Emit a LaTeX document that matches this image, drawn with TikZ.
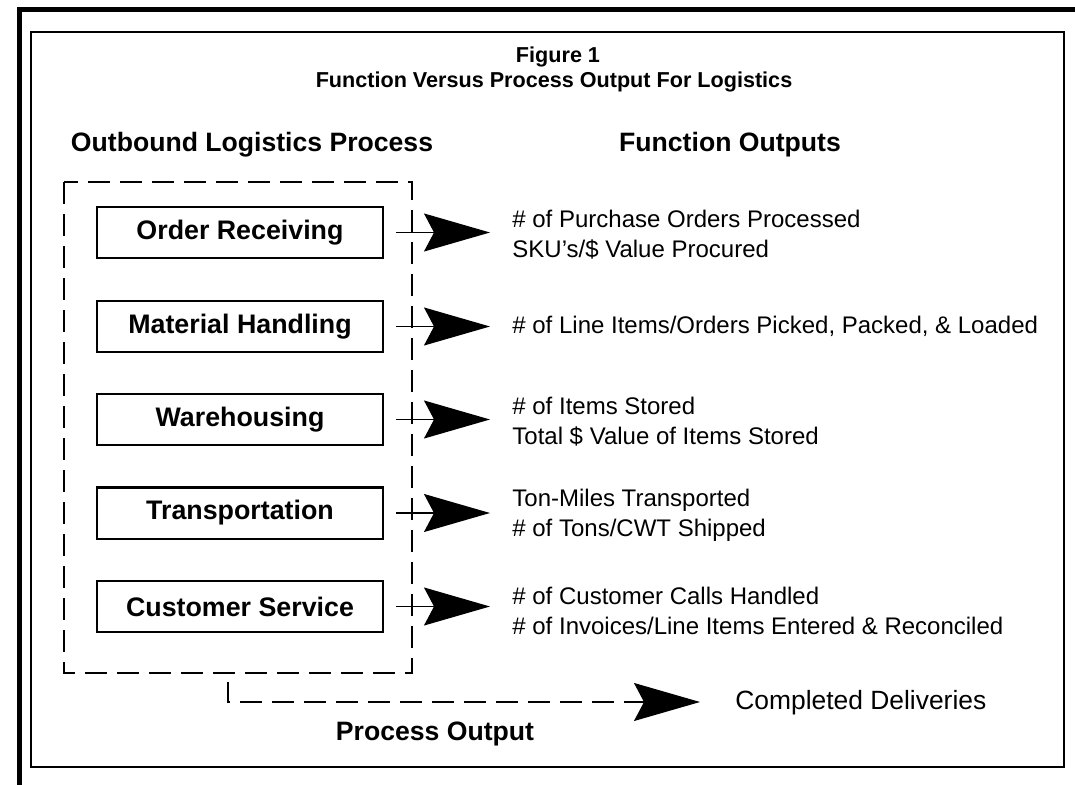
\documentclass[tikz,border=0pt]{standalone}
\usepackage{fontspec}
\setmainfont{Liberation Sans}
\usetikzlibrary{calc,arrows.meta}

\begin{document}
\begin{tikzpicture}[
        x=0.5pt,y=-0.5pt
        ,func/.style={draw,line width=1pt,minimum width=143pt,minimum height=25.5pt,inner sep=0pt,font=\bfseries\fontsize{13.4}{15}\selectfont}
        ,outp/.style={anchor=west,align=left,inner sep=0pt,font=\fontsize{12}{15}\selectfont}
        ,head/.style={inner sep=0pt,font=\bfseries\fontsize{13.3}{15}\selectfont}
        ,arr/.style={line width=0.7pt,-{Stealth[length=33pt,width=19pt,inset=5pt]}}
        ,dashbox/.style={line width=0.6pt,dash pattern=on 11pt off 5pt}
    ]
    \useasboundingbox (0,0) rectangle (1075,785);
    % Рамки
    \draw[line width=2.5pt] (17,10) -- (1075,10);
    \draw[line width=2.5pt] (19,10) -- (19,785);
    \draw[line width=0.75pt] (31,32) rectangle (1064,767);
    % Заголовок
    \node[inner sep=0pt,font=\bfseries\fontsize{10.8}{12}\selectfont] (fig) at (558,57) {Figure 1};
    \node[inner sep=0pt,font=\bfseries\fontsize{10.8}{12}\selectfont] (title) at (554,82) {Function Versus Process Output For Logistics};
    \node[head] (hproc) at (252,145) {Outbound Logistics Process};
    \node[head] (hfunc) at (730,145) {Function Outputs};
    % Процесс
    \draw[dashbox] (64,182) rectangle (412,673);
    \node[func] (recv)  at (240,232.5) {Order Receiving};
    \node[func] (hand)  at (240,326.5) {Material Handling};
    \node[func] (ware)  at (240,419.5) {Warehousing};
    \node[func] (trans) at (240,513)   {Transportation};
    \node[func] (serv)  at (240,606.5) {Customer Service};
    % Результаты функций
    \node[outp] (orecv)  at (512,235)   {\# of Purchase Orders Processed\\SKU's/\$ Value Procured};
    \node[outp] (ohand)  at (512,326)   {\# of Line Items/Orders Picked, Packed, \& Loaded};
    \node[outp] (oware)  at (512,421.5) {\# of Items Stored\\Total \$ Value of Items Stored};
    \node[outp] (otrans) at (512,515)   {Ton-Miles Transported\\\# of Tons/CWT Shipped};
    \node[outp] (oserv)  at (512,610.5) {\# of Customer Calls Handled\\\# of Invoices/Line Items Entered \& Reconciled};
    % Стрелки
    \coordinate (tip) at (490,0);
    \foreach \f in {recv,hand,ware,trans,serv}
        \draw[arr,shorten <=6pt] (\f.east) -- (\f.east -| tip);
    % Результат процесса
    \coordinate (pstart) at (228,682);
    \coordinate (pend) at (700,702);
    \draw[dashbox,arr,line width=0.6pt] (pstart) |- (pend);
    \node[outp,font=\fontsize{13.2}{15}\selectfont] (deliv) at (735,703) {Completed Deliveries};
    \node[head] (pout) at (435,734) {Process Output};
\end{tikzpicture}
\end{document}
